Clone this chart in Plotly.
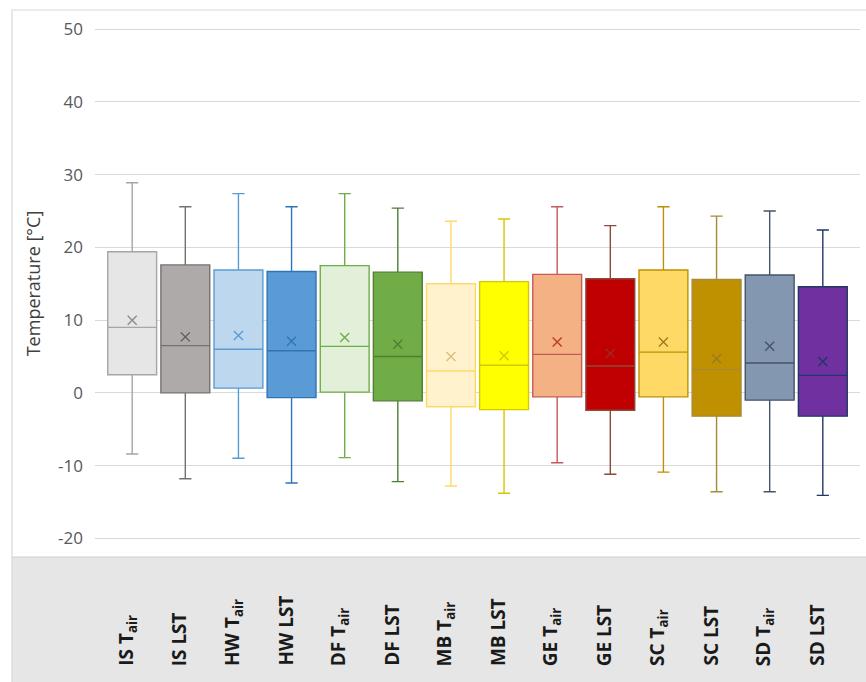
import plotly.graph_objects as go

# Site / variable pairs along the x axis
categories = ["IS Tair", "IS LST", "HW Tair", "HW LST", "DF Tair", "DF LST",
              "MB Tair", "MB LST", "GE Tair", "GE LST", "SC Tair", "SC LST",
              "SD Tair", "SD LST"]
tick_labels = ["IS T<sub>air</sub>", "IS LST", "HW T<sub>air</sub>", "HW LST",
               "DF T<sub>air</sub>", "DF LST", "MB T<sub>air</sub>", "MB LST",
               "GE T<sub>air</sub>", "GE LST", "SC T<sub>air</sub>", "SC LST",
               "SD T<sub>air</sub>", "SD LST"]

# y axis ticks (plain hyphen for negatives)
y_tick_values = [-20, -10, 0, 10, 20, 30, 40, 50]
y_tick_text = ["-20", "-10", "0", "10", "20", "30", "40", "50"]

# Box statistics (°C)
upper_whisker = [28.9, 25.6, 27.4, 25.6, 27.4, 25.4, 23.6, 23.9, 25.6, 23.0, 25.6, 24.3, 25.0, 22.4]
q3 = [19.4, 17.6, 16.9, 16.7, 17.5, 16.6, 15.0, 15.3, 16.3, 15.7, 16.9, 15.6, 16.2, 14.6]
median = [9.0, 6.5, 6.0, 5.8, 6.4, 5.0, 3.0, 3.8, 5.3, 3.7, 5.6, 3.2, 4.1, 2.4]
mean = [10.0, 7.7, 7.9, 7.1, 7.6, 6.7, 5.0, 5.1, 7.0, 5.4, 7.0, 4.7, 6.4, 4.3]
q1 = [2.5, 0.0, 0.65, -0.65, 0.1, -1.1, -1.9, -2.3, -0.55, -2.4, -0.55, -3.2, -1.0, -3.2]
lower_whisker = [-8.4, -11.8, -9.0, -12.4, -8.9, -12.2, -12.8, -13.8, -9.6, -11.2, -10.9, -13.6, -13.6, -14.1]

fill_colors = ["#E7E6E6", "#AEAAAA", "#BDD7EE", "#5B9BD5", "#E2F0D9", "#70AD47",
               "#FFF2CC", "#FFFF00", "#F4B183", "#C00000", "#FFD966", "#BF9000",
               "#8497B0", "#7030A0"]
line_colors = ["#A6A6A6", "#767171", "#5B9BD5", "#2E75B6", "#70AD47", "#507E32",
               "#FFD966", "#D6C800", "#C55A5A", "#8B4A3A", "#BF9000", "#A68A3A",
               "#44546A", "#203864"]
mean_colors = ["#8C8C8C", "#5E5A5A", "#5B9BD5", "#2E75B6", "#70AD47", "#507E32",
               "#D9C27A", "#D6C800", "#C0392B", "#9E2A2A", "#9C7A1F", "#9C7A1F",
               "#44546A", "#203864"]

fig = go.Figure()

for i, cat in enumerate(categories):
    fig.add_trace(go.Box(
        x=[cat],
        q1=[q1[i]], median=[median[i]], q3=[q3[i]],
        lowerfence=[lower_whisker[i]], upperfence=[upper_whisker[i]],
        fillcolor=fill_colors[i],
        line=dict(color=line_colors[i], width=1.4),
        width=0.92,
        whiskerwidth=0.25,
        boxpoints=False,
        showlegend=False,
        hoverinfo="skip",
    ))

# Mean markers
fig.add_trace(go.Scatter(
    x=categories, y=mean, mode="markers",
    marker=dict(symbol="x-thin", size=9,
                line=dict(color=mean_colors, width=1.4)),
    showlegend=False, hoverinfo="skip",
))

# Plot area geometry (pixels) used to place frame and label band
W, H = 866, 682
ml, mr, mt, mb = 95, 6, 10, 125
pw, ph = W - ml - mr, H - mt - mb

def px_x(p):
    return (p - ml) / pw

def px_y(p):
    return (H - mb - p) / ph

shapes = [
    # grey label band under the plot
    dict(type="rect", xref="paper", yref="paper",
         x0=px_x(12), x1=px_x(W + 5), y0=px_y(557), y1=px_y(H + 5),
         fillcolor="#E6E6E6", line=dict(width=0), layer="below"),
    # outer chart frame
    dict(type="rect", xref="paper", yref="paper",
         x0=px_x(12), x1=px_x(W + 5), y0=px_y(H + 5), y1=px_y(10),
         fillcolor="rgba(0,0,0,0)", line=dict(color="#D9D9D9", width=1.2), layer="below"),
    dict(type="line", xref="paper", yref="paper",
         x0=px_x(12), x1=px_x(W + 5), y0=px_y(557), y1=px_y(557),
         line=dict(color="#D0D0D0", width=1), layer="below"),
]

annotations = []
for i, lab in enumerate(tick_labels):
    annotations.append(dict(
        x=categories[i], xref="x", y=px_y(668), yref="paper",
        text=lab, textangle=-90, showarrow=False,
        xanchor="center", yanchor="bottom", xshift=-6,
        font=dict(family="Open Sans", size=19, color="#1a1a1a", weight="bold"),
    ))

fig.update_layout(
    width=W, height=H,
    margin=dict(l=ml, r=mr, t=mt, b=mb),
    paper_bgcolor="white", plot_bgcolor="white",
    boxmode="overlay",
    shapes=shapes,
    annotations=annotations,
    xaxis=dict(type="category", range=[-0.7, 13.7], showticklabels=False,
               showgrid=False, zeroline=False, showline=False, ticks=""),
    yaxis=dict(range=[-22.57, 52.65], tickvals=y_tick_values, ticktext=y_tick_text,
               showgrid=True, gridcolor="#D9D9D9", gridwidth=1,
               zeroline=False, showline=False, ticks="",
               ticklabelstandoff=11,
               tickfont=dict(family="Open Sans", size=17, color="#595959"),
               title=dict(text="Temperature [°C]", standoff=12,
                          font=dict(family="Open Sans", size=18, color="#404040"))),
)

fig.write_html("out.html")
